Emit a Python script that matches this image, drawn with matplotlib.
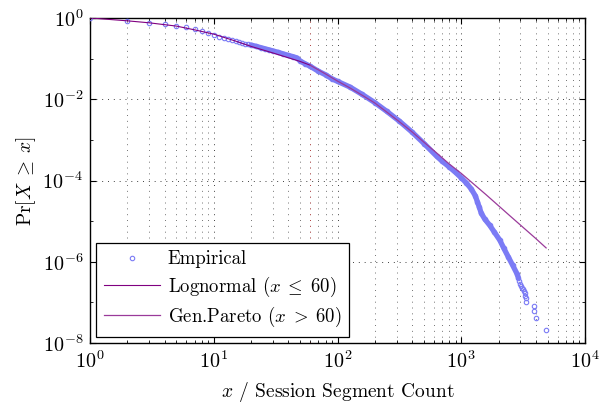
import matplotlib
matplotlib.use("Agg")
import matplotlib.pyplot as plt
import matplotlib.ticker as mticker
import numpy as np

plt.rcParams["font.family"] = "serif"
plt.rcParams["font.serif"] = ["cmr10"]
plt.rcParams["mathtext.fontset"] = "cm"
plt.rcParams["axes.formatter.use_mathtext"] = True

# empirical CCDF
emp_x = [1, 2, 3, 4, 5, 6, 7, 8, 9, 10,
         11, 12, 13, 14, 15, 16, 17, 18, 19, 20,
         22, 24, 26, 28, 30, 33, 36, 40, 44, 47,
         50, 55, 60, 70, 80, 90, 100, 126, 158, 200,
         251, 316, 398, 501, 631, 700, 794, 900, 1000, 1100,
         1200, 1300, 1350, 1400, 1450, 1550, 1700, 1850, 2050, 2200,
         2400, 2600, 2820, 2900,
         2950, 3000, 3050, 3100, 3150, 3200, 3250, 3280, 3310, 3340,
         3840, 3890, 4030, 4850]
emp_y = [1.0, 0.84, 0.77, 0.71, 0.65, 0.59, 0.52, 0.47, 0.42, 0.38,
         0.347, 0.32, 0.30, 0.28, 0.266, 0.254, 0.243, 0.232, 0.224, 0.216,
         0.20, 0.186, 0.174, 0.164, 0.155, 0.143, 0.132, 0.120, 0.111, 0.104,
         0.087, 0.074, 0.065, 0.049, 0.040, 0.032, 0.0275, 0.020, 0.0132, 0.0083,
         5.0e-3, 2.9e-3, 1.58e-3, 8.1e-4, 4.0e-4, 3.0e-4, 2.2e-4, 1.58e-4, 1.17e-4, 8.7e-5,
         6.3e-5, 4.2e-5, 3.0e-5, 2.2e-5, 1.58e-5, 1.12e-5, 7.9e-6, 5.4e-6, 3.4e-6, 2.2e-6,
         1.32e-6, 8.3e-7, 5.1e-7, 4.0e-7,
         3.4e-7, 2.9e-7, 2.5e-7, 2.3e-7, 2.1e-7, 1.9e-7, 1.68e-7, 1.47e-7, 1.26e-7, 1.05e-7,
         8.4e-8, 6.3e-8, 4.2e-8, 2.1e-8]

# fitted lognormal body (x <= 60)
logn_x = [1, 2, 3, 5, 7, 10, 15, 20, 30, 40, 50, 60]
logn_y = [1.0, 0.85, 0.76, 0.63, 0.51, 0.40, 0.27, 0.20, 0.138, 0.105, 0.085, 0.069]

# fitted generalized Pareto tail (x > 60)
gp_x = [60, 80, 100, 126, 158, 200, 251, 316, 398, 501, 631, 794, 1000, 1585, 2512, 3981, 4850]
gp_y = [6.9e-2, 4.2e-2, 2.8e-2, 1.9e-2, 1.26e-2, 8.1e-3, 4.8e-3, 2.8e-3, 1.6e-3, 8.7e-4,
        4.8e-4, 2.6e-4, 1.5e-4, 4.5e-5, 1.3e-5, 3.8e-6, 2.2e-6]

threshold = 60

blue = "#7b7bf5"
purple = "#800080"

fig, ax = plt.subplots(figsize=(6, 4.08), dpi=100)
fig.subplots_adjust(left=0.15, right=0.975, top=0.956, bottom=0.159)

ex = np.array(emp_x)
ey = np.array(emp_y)
dense = (ex >= 20) & (ex <= 2900)
ax.plot(ex[dense], ey[dense], color=blue, lw=3.8, solid_capstyle="round", zorder=2)
ax.plot(ex, ey, "o", mfc="none", mec=blue, ms=3.2, mew=0.8, zorder=3, label="Empirical")

ax.plot(logn_x, logn_y, color=purple, lw=0.8, zorder=4, label=r"Lognormal ($x\;\leq\;60$)")
ax.plot(gp_x, gp_y, color="#9a3a9a", lw=0.9, zorder=4, label=r"Gen.Pareto ($x\;>\;60$)")

ax.axvline(threshold, color="red", ls=(0, (1, 5)), lw=0.7, alpha=0.45, zorder=1)

ax.set_xscale("log")
ax.set_yscale("log")
ax.set_xlim(1, 1e4)
ax.set_ylim(1e-8, 1)

ax.xaxis.set_major_locator(mticker.LogLocator(base=10, numticks=10))
ax.xaxis.set_minor_locator(mticker.LogLocator(base=10, subs=np.arange(2, 10), numticks=20))
ax.yaxis.set_major_locator(mticker.FixedLocator([1e-8, 1e-6, 1e-4, 1e-2, 1]))
ax.yaxis.set_minor_locator(mticker.FixedLocator([1e-7, 1e-5, 1e-3, 1e-1]))
ax.yaxis.set_minor_formatter(mticker.NullFormatter())
ax.xaxis.set_minor_formatter(mticker.NullFormatter())

ax.tick_params(which="both", direction="in", top=True, right=True, labelsize=14.5)
ax.tick_params(which="major", length=4, width=0.8, pad=5)
ax.tick_params(which="minor", length=2, width=0.6)

ax.grid(True, which="major", ls=(0, (1, 5)), lw=0.7, color="0.25")
ax.grid(True, which="minor", axis="x", ls=(0, (1, 5)), lw=0.7, color="0.45")
ax.set_axisbelow(True)

for s in ax.spines.values():
    s.set_linewidth(1.0)

ax.set_xlabel(r"$x$ / Session Segment Count", fontsize=14, labelpad=6)
ax.set_ylabel(r"$\Pr[X\;\geq\;x]$", fontsize=14, labelpad=3)

leg = ax.legend(loc="lower left", bbox_to_anchor=(0.012, 0.02), fontsize=13.5,
                frameon=True, fancybox=False, framealpha=1, edgecolor="black",
                handlelength=3.0, handletextpad=0.4, borderpad=0.42,
                labelspacing=0.32, borderaxespad=0)
leg.get_frame().set_linewidth(0.9)

fig.savefig("out.png", dpi=100)
